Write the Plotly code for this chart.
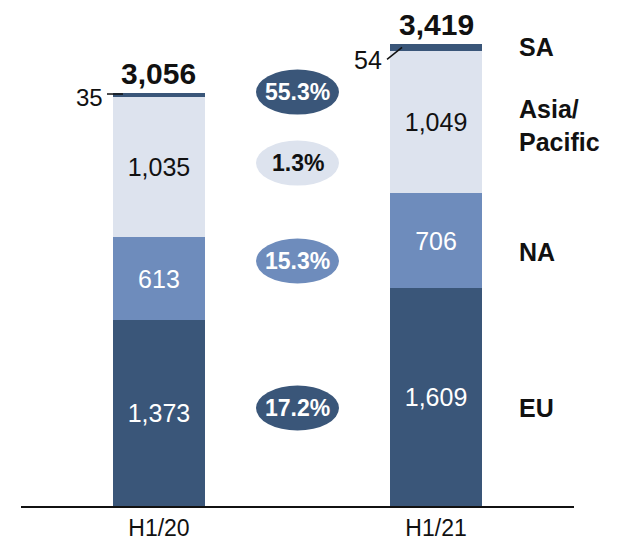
import plotly.graph_objects as go

categories = ["H1/20", "H1/21"]
eu = [1373, 1609]
na = [613, 706]
asia = [1035, 1049]
sa = [35, 54]
totals = [3056, 3419]
total_labels = ["3,056", "3,419"]
region_labels = ["EU", "NA", "Asia/<br>Pacific", "SA"]
growth_labels = ["55.3%", "1.3%", "15.3%", "17.2%"]

DARK = "#3a5679"
MID = "#6e8cbc"
LIGHT = "#dde3ee"
FONT = "Arial, Liberation Sans, sans-serif"

x = [0, 1]
fig = go.Figure()

def fmt(v):
    return f"{v:,}"

fig.add_trace(go.Bar(x=x, y=eu, marker=dict(color=DARK, line=dict(width=0)),
                     text=[fmt(v) for v in eu], textposition="inside", insidetextanchor="middle",
                     textfont=dict(color="white", size=25, family=FONT), width=0.332))
fig.add_trace(go.Bar(x=x, y=na, marker=dict(color=MID, line=dict(width=0)),
                     text=[fmt(v) for v in na], textposition="inside", insidetextanchor="middle",
                     textfont=dict(color="white", size=25, family=FONT), width=0.332))
fig.add_trace(go.Bar(x=x, y=asia, marker=dict(color=LIGHT, line=dict(width=0)),
                     text=[fmt(v) for v in asia], textposition="inside", insidetextanchor="middle",
                     textfont=dict(color="#111111", size=25, family=FONT), width=0.332))
fig.add_trace(go.Bar(x=x, y=sa, marker=dict(color=DARK, line=dict(width=0)),
                     textposition="none", width=0.332))

# totals
for i in range(2):
    fig.add_annotation(x=x[i], y=totals[i], text=f"<b>{total_labels[i]}</b>", showarrow=False,
                       yanchor="bottom", yshift=2, borderpad=0,
                       font=dict(size=30, color="#111111", family=FONT))

# small SA labels with leader lines
top1 = eu[0] + na[0] + asia[0] + sa[0]
fig.add_annotation(x=x[0], y=top1 - sa[0] / 2, text=fmt(sa[0]), showarrow=False,
                   xanchor="right", xshift=-54, yshift=-2, font=dict(size=24, color="#111111", family=FONT))
fig.add_shape(type="line", xref="x", yref="y", xsizemode="pixel", xanchor=x[0],
              ysizemode="pixel", yanchor=top1 - sa[0] / 2,
              x0=-52, x1=-36, y0=1, y1=1,
              line=dict(color="#111111", width=1.5))
top2 = eu[1] + na[1] + asia[1] + sa[1]
fig.add_annotation(x=x[1], y=top2 - sa[1] / 2, text=fmt(sa[1]), showarrow=False,
                   xanchor="right", xshift=-52, yshift=-13, font=dict(size=25, color="#111111", family=FONT))
fig.add_shape(type="line", xref="x", yref="y", xsizemode="pixel", xanchor=x[1],
              ysizemode="pixel", yanchor=top2 - sa[1] / 2,
              x0=-49, x1=-34, y0=-12, y1=0,
              line=dict(color="#111111", width=1.5))

# region labels on the right
region_y = [725, 1878, 2810, 3394]
for lab, yy in zip(region_labels, region_y):
    fig.add_annotation(x=1.2924, y=yy, text=f"<b>{lab}</b>", showarrow=False, xanchor="left",
                       align="left", font=dict(size=25, color="#111111", family=FONT))

# growth ellipses
growth_y = [3060, 2535, 1811, 724]
growth_fill = [DARK, LIGHT, MID, DARK]
growth_txt = ["white", "#111111", "white", "white"]
for lab, yy, fc, tc in zip(growth_labels, growth_y, growth_fill, growth_txt):
    fig.add_shape(type="circle", xref="x", yref="y", xsizemode="pixel", ysizemode="pixel",
                  xanchor=0.5, yanchor=yy, x0=-41.5, x1=41.5, y0=-22.5, y1=22.5,
                  fillcolor=fc, line=dict(width=0), layer="above")
    fig.add_annotation(x=0.5, y=yy, text=f"<b>{lab}</b>", showarrow=False,
                       font=dict(size=23, color=tc, family=FONT))

fig.update_layout(
    width=620, height=550, barmode="stack", showlegend=False,
    margin=dict(l=21, r=46, t=10, b=44),
    paper_bgcolor="white", plot_bgcolor="white",
    font=dict(family=FONT, color="#111111"),
    uniformtext=dict(mode="show", minsize=10),
    xaxis=dict(range=[-0.498, 1.498], tickvals=x, ticktext=categories, showgrid=False,
               zeroline=False, showline=True, linecolor="#111111", linewidth=2,
               ticks="", ticklabelstandoff=0,
               tickfont=dict(size=23, color="#111111", family=FONT), fixedrange=True),
    yaxis=dict(range=[0, 3667], visible=False, showgrid=False, zeroline=False, fixedrange=True),
)

fig.write_html("out.html", config={"displayModeBar": False},
               post_script="document.body.style.margin='0px';")
